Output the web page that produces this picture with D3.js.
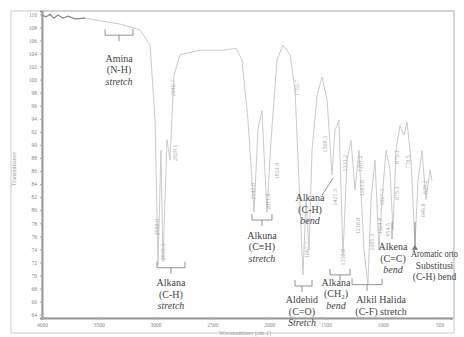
<!DOCTYPE html>
<html><head><meta charset="utf-8">
<script src="https://cdn.jsdelivr.net/npm/d3@7"></script>
<style>html,body{margin:0;padding:0;background:#fff;} svg{display:block}</style>
</head><body>
<svg id="c" width="464" height="337"></svg>
<script>
// ---- data (read/estimated from the picture) ----
const wavenumber = [4000,3965,3930,3894,3859,3815,3771,3710,3622,3489,3313,3137,3049,3005,2979,2953,2935,2900,2873,2838,2785,2609,2389,2292,2240,2187,2134,2099,2064,2020,1984,1932,1879,1817,1773,1738,1703,1676,1650,1623,1579,1535,1491,1447,1421,1386,1351,1315,1280,1245,1210,1166,1131,1104,1069,1034,1007,972,937,911,884,849,814,787,752,717,690,655,620,585,567];
const transmittance = [109.9,109.6,110.0,109.4,109.9,109.4,109.7,109.3,109.4,109.0,108.5,107.6,105.3,93.8,71.6,89.2,72.1,90.8,87.7,100.7,103.8,104.5,104.5,104.8,103.0,93.8,79.7,92.3,95.3,79.7,90.7,103.0,105.3,103.8,98.4,84.6,70.1,81.6,73.9,89.2,97.6,100.4,96.9,85.4,92.3,93.8,73.1,87.7,90.7,83.1,89.2,73.9,68.6,81.6,87.7,73.9,81.6,89.2,86.2,77.0,89.2,93.0,91.5,93.5,87.7,74.7,84.6,89.2,81.6,86.2,84.6];

const yTickValues = [64,66,68,70,72,74,76,78,80,82,84,86,88,90,92,94,96,98,100,102,104,106,108,110];
const xTickValues = [4000,3500,3000,2500,2000,1500,1000,500];

const peakWn = [2988.0,2935.3,2829.1,2846.7,2143.0,2011.0,1931.8,1755.7,1667.7,1509.3,1421.3,1333.2,1350.8,1201.2,1183.6,1218.8,1095.3,1007.3,1024.9,954.5,875.3,778.5,875.3,629.2,646.8];
const peakT  = [77.4,73.6,88.8,98.7,82.9,81.3,86.0,98.7,73.9,90.1,82.0,87.2,72.8,87.1,83.4,77.6,75.1,82.0,77.6,77.0,88.1,87.4,82.6,83.5,80.0];

const annoLines = [
  ["Amina","(N-H)","stretch"],
  ["Alkana","(C-H)","stretch"],
  ["Alkuna","(C\u2261H)","stretch"],
  ["Aldehid","(C=O)","Stretch"],
  ["Alkana","(C-H)","bend"],
  ["Alkana","(CH\u2082)","bend"],
  ["Alkil Halida","(C-F) stretch"],
  ["Alkena","(C=C)","bend"],
  ["Aromatic orto","Substitusi","(C-H) bend"]
];
const annoWn = [3322,2865,2064,1712,1641,1412,1016,910,545];
const annoT  = [103.3,68.9,76.2,66.3,81.9,69.0,66.3,74.4,73.3];
// braces
const braceIdx = [0,1,2,3,5,6];
const braceWn1 = [3445,2988,2152,1773,1465,1271];
const braceWn2 = [3199,2741,1976,1623,1289,1007];
const braceT   = [106.8,71.2,78.5,68.4,70.1,68.6];
const braceMid = [3322,2865,2064,1712,1377,1139];
// connector lines
const connWn1 = [1535,919,717];
const connT1  = [82.3,78.2,78.2];
const connWn2 = [1439,919,717];
const connT2  = [84.9,75.6,74.4];

// ---- drawing ----
const svg = d3.select("#c");
const L=42, R=454, T=11, B=318;
const x = d3.scaleLinear().domain([4000,400]).range([L,451]);
const y = d3.scaleLinear().domain([63.5,110.5]).range([B,T]);

svg.append("rect").attr("x",11).attr("y",11).attr("width",R-11).attr("height",333-11)
  .attr("fill","none").attr("stroke","#cccccc").attr("stroke-width",1);
svg.append("rect").attr("x",L).attr("y",T).attr("width",R-L).attr("height",B-T)
  .attr("fill","none").attr("stroke","#c4c4c4").attr("stroke-width",1);

const yAxis = svg.append("g").attr("transform",`translate(${L},0)`)
  .call(d3.axisLeft(y).tickValues(yTickValues).tickSize(2).tickPadding(3).tickFormat(d3.format("d")));
const xAxis = svg.append("g").attr("transform",`translate(0,${B})`)
  .call(d3.axisBottom(x).tickValues(xTickValues).tickSize(2).tickPadding(3).tickFormat(d3.format("d")));
[yAxis,xAxis].forEach(g=>{
  g.select(".domain").attr("stroke","#9a9a9a").attr("stroke-width",2);
  g.selectAll(".tick line").attr("stroke","#aaa");
  g.selectAll(".tick text").attr("fill","#888").attr("font-size","5.5px").attr("font-family","Liberation Serif, serif");
});

svg.append("text").attr("transform",`translate(16,${y(86.3)}) rotate(-90)`)
  .attr("text-anchor","middle").attr("font-size","6px").attr("fill","#999")
  .attr("font-family","Liberation Serif, serif").text("Transmittance");
svg.append("text").attr("x",245).attr("y",335)
  .attr("text-anchor","middle").attr("font-size","6px").attr("fill","#999")
  .attr("font-family","Liberation Serif, serif").text("Wavenumbers (cm-1)");

// spectrum
const pts = wavenumber.map((w,i)=>[w,transmittance[i]]);
const line = d3.line().x(d=>x(d[0])).y(d=>y(d[1]));
svg.append("path").datum(pts).attr("d",line).attr("fill","none")
  .attr("stroke","#cbcbcb").attr("stroke-width",1);
svg.append("path").datum(pts.filter(d=>d[0]>=3600)).attr("d",line).attr("fill","none")
  .attr("stroke","#8a8a8a").attr("stroke-width",1.2);

// peak labels
svg.append("g").selectAll("text").data(peakWn).join("text")
  .attr("transform",(d,i)=>`translate(${x(d)+2},${y(peakT[i])}) rotate(-90)`)
  .attr("text-anchor","middle").attr("font-size","6px").attr("fill","#a8a8a8")
  .attr("font-family","Liberation Serif, serif")
  .text(d=>d.toFixed(1));

// braces
braceIdx.forEach((a,i)=>{
  const x1=x(braceWn1[i]), x2=x(braceWn2[i]), yb=y(braceT[i]), xm=x(braceMid[i]);
  svg.append("path").attr("d",`M${x1},${yb-6}V${yb}H${x2}V${yb-6}M${xm},${yb}V${yb+6}`)
    .attr("fill","none").attr("stroke","#777").attr("stroke-width",0.8);
});
connWn1.forEach((w,i)=>{
  svg.append("line").attr("x1",x(w)).attr("y1",y(connT1[i])).attr("x2",x(connWn2[i])).attr("y2",y(connT2[i]))
    .attr("stroke","#777").attr("stroke-width",0.8);
});
svg.append("path").attr("d",`M${x(717)-3},${y(74.4)+3}L${x(717)},${y(74.4)-2}L${x(717)+3},${y(74.4)+3}Z`).attr("fill","#777");

// annotation text
annoLines.forEach((lines,i)=>{
  const last = i===annoLines.length-1;
  const t = svg.append("text").attr("text-anchor","middle")
    .attr("font-family","Liberation Serif, serif").attr("font-size", last ? "9.5px" : "10px").attr("fill","#444");
  lines.forEach((s,j)=>{
    const ts = t.append("tspan").attr("x",x(annoWn[i])).attr("y",y(annoT[i])+3.5+j*11.5)
      .attr("font-style",/stretch|bend|Stretch/.test(s) && !/\(/.test(s) ? "italic":null)
      .text(s);
    if (last && j===0) ts.attr("textLength",47).attr("lengthAdjust","spacingAndGlyphs");
  });
});
</script>
</body></html>
